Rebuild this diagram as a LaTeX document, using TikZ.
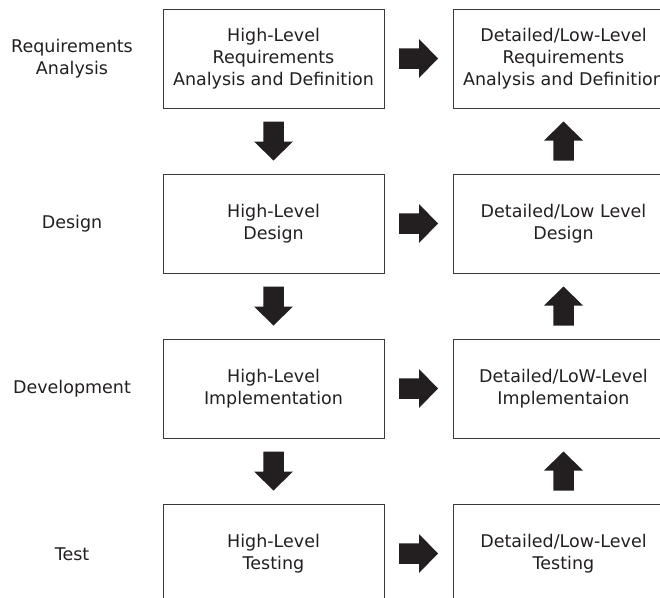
\documentclass[tikz,border=0pt]{standalone}
\usepackage{fontspec}
\setmainfont{DejaVu Sans}
\usetikzlibrary{calc}
\definecolor{ink}{HTML}{231F20}
\definecolor{edge}{HTML}{3A3A3A}
\tikzset{
  x=1pt, y=-1pt,
  txt/.style={font=\fontsize{17.5}{21.7}\selectfont, text=ink, align=center},
  stage/.style={txt, draw=edge, line width=1pt, minimum width=221pt, minimum height=99pt, inner sep=0pt},
  phase/.style={txt, inner sep=0pt},
  blockarrow/.pic={\fill[ink] (-19.5,-10.25) -- (0.5,-10.25) -- (0.5,-19.5) -- (19.5,0) -- (0.5,19.5) -- (0.5,10.25) -- (-19.5,10.25) -- cycle;}
}
\begin{document}
\begin{tikzpicture}
\useasboundingbox (0,0) rectangle (660,597);
\clip (0,0) rectangle (660,597);
% row labels
\node[phase] (p1) at (72,58.5) {Requirements\\Analysis};
\node[phase] (p2) at (72,224) {Design};
\node[phase] (p3) at (72,389) {Development};
\node[phase] (p4) at (72,554) {Test};
% high-level column
\node[stage] (h1) at (273.5,58.5) {High-Level\\Requirements\\Analysis and Definition};
\node[stage] (h2) at (273.5,223.5) {High-Level\\Design};
\node[stage] (h3) at (273.5,388.5) {High-Level\\Implementation};
\node[stage] (h4) at (273.5,553.5) {High-Level\\Testing};
% low-level column
\node[stage] (l1) at (563.5,58.5) {Detailed/Low-Level\\Requirements\\Analysis and Definition};
\node[stage] (l2) at (563.5,223.5) {Detailed/Low Level\\Design};
\node[stage] (l3) at (563.5,388.5) {Detailed/LoW-Level\\Implementaion};
\node[stage] (l4) at (563.5,553.5) {Detailed/Low-Level\\Testing};
% right arrows
\foreach \k in {1,2,3,4} {
  \pic at ($(h\k.east)!0.5!(l\k.west)$) {blockarrow};
}
% down arrows
\foreach \a/\b in {1/2,2/3,3/4} {
  \pic[rotate=-90] at ($(h\a.south)!0.5!(h\b.north)$) {blockarrow};
}
% up arrows
\foreach \a/\b in {1/2,2/3,3/4} {
  \pic[rotate=90] at ($(l\a.south)!0.5!(l\b.north)$) {blockarrow};
}
\end{tikzpicture}
\end{document}
